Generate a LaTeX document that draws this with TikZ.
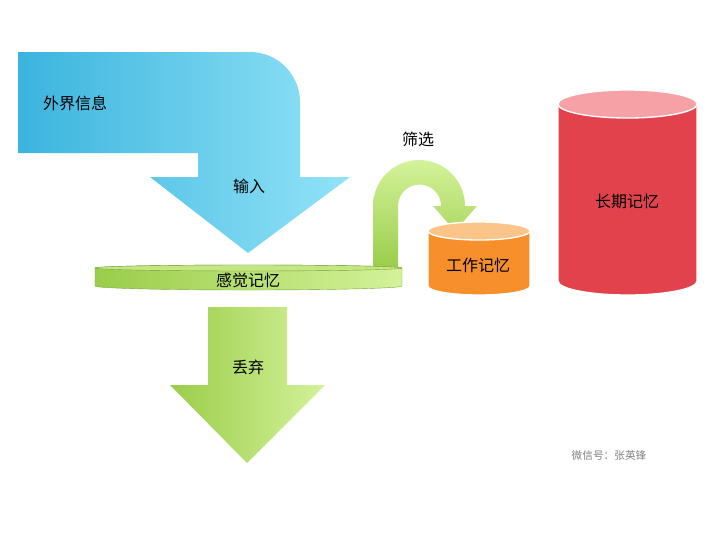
\documentclass[tikz,border=0pt]{standalone}
\usepackage{fontspec}
\setmainfont{Noto Sans CJK SC}
\definecolor{skyL}{HTML}{3BB4DE}
\definecolor{skyR}{HTML}{92E3F7}
\definecolor{leafL}{HTML}{9ACD4A}
\definecolor{leafR}{HTML}{D4F29A}
\definecolor{orgBody}{HTML}{F7902A}
\definecolor{orgTop}{HTML}{FBC58A}
\definecolor{redBody}{HTML}{E2424C}
\definecolor{redTop}{HTML}{F6A1A5}
\tikzset{
  lbl/.style={font=\fontsize{12}{14}\selectfont, text=black},
}
\begin{document}
\begin{tikzpicture}[x=0.75pt,y=-0.75pt]
\useasboundingbox (0,0) rectangle (720,540);
% blue bent arrow
\shade[left color=skyL, right color=skyR]
  (18,52) -- (250,52) arc[start angle=-90,end angle=0,radius=50] -- (300,177) -- (350,177)
  -- (248,253) -- (150,177) -- (198,177) -- (198,153) -- (18,153) -- cycle;
\node[lbl] (outside) at (75,103) {外界信息};
\node[lbl] (input) at (249,186) {输入};
% green U-turn arrow
\shade[top color=leafR, bottom color=leafL]
  (373,268) -- (373,206) arc[start angle=180,end angle=360,radius=46] -- (465,206) -- (477,206)
  -- (455,231) -- (433,206) -- (441,206) arc[start angle=0,end angle=-180,radius=21.5] -- (398,268) -- cycle;
\node[lbl] (filter) at (418,139) {筛选};
% sensory disk
\shade[left color=leafL, right color=leafR, draw=leafL!80!black, line width=0.3pt]
  (95,268) -- (95,286) arc[start angle=180,end angle=0,x radius=153.5,y radius=4] -- (402,268)
  arc[start angle=0,end angle=-180,x radius=153.5,y radius=3];
\draw[leafL!80!black, line width=0.3pt, fill=leafR!70!leafL] (248.5,268) ellipse[x radius=153.5,y radius=3];
\node[lbl] (sensory) at (248,280) {感觉记忆};
% working memory
\fill[orgBody, draw=white, line width=1pt] (428,231) -- (428,286) arc[start angle=180,end angle=0,x radius=51,y radius=9] -- (530,231) -- cycle;
\fill[orgTop, draw=white, line width=1pt] (479,231) ellipse[x radius=51,y radius=9];
\node[lbl] (work) at (478,265) {工作记忆};
% long-term memory
\fill[redBody, draw=white, line width=1pt] (558,104) -- (558,281) arc[start angle=180,end angle=0,x radius=69.5,y radius=14] -- (697,104) -- cycle;
\fill[redTop, draw=white, line width=1pt] (627.5,104) ellipse[x radius=69.5,y radius=14];
\node[lbl] (longterm) at (627,201) {长期记忆};
% discard arrow
\shade[left color=leafL, right color=leafR]
  (208,307) -- (287,307) -- (287,385) -- (325,385) -- (247,463) -- (170,385) -- (208,385) -- cycle;
\node[lbl] (discard) at (248,367) {丢弃};
\node[font=\fontsize{8}{10}\selectfont, text=gray] (wechat) at (609,455) {微信号：张英锋};
\end{tikzpicture}
\end{document}
